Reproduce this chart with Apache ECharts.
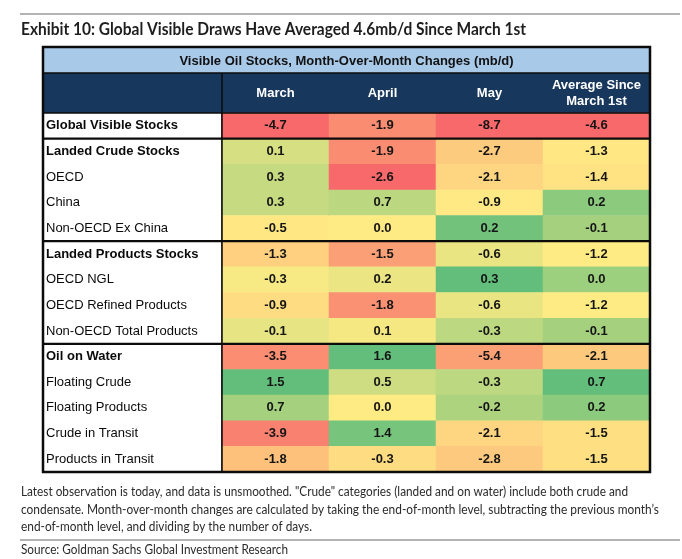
<!DOCTYPE html>
<html>
<head>
<meta charset="utf-8">
<script src="https://cdn.jsdelivr.net/npm/echarts@6/dist/echarts.min.js"></script>
<style>
    html, body { margin: 0; padding: 0; background: #fff; }
    #chart { width: 682px; height: 559px; }
</style>
</head>
<body>
<div id="chart"></div>
<script>
    const rows = ['Global Visible Stocks', 'Landed Crude Stocks', 'OECD', 'China', 'Non-OECD Ex China',
        'Landed Products Stocks', 'OECD NGL', 'OECD Refined Products', 'Non-OECD Total Products',
        'Oil on Water', 'Floating Crude', 'Floating Products', 'Crude in Transit', 'Products in Transit'];
    const boldRows = ['Global Visible Stocks', 'Landed Crude Stocks', 'Landed Products Stocks', 'Oil on Water'];
    // last row of each block that gets a heavy rule underneath
    const sectionEnds = [0, 4, 8];
    const columns = ['March', 'April', 'May', 'Average Since\nMarch 1st'];

    const march = [-4.7, 0.1, 0.3, 0.3, -0.5, -1.3, -0.3, -0.9, -0.1, -3.5, 1.5, 0.7, -3.9, -1.8];
    const april = [-1.9, -1.9, -2.6, 0.7, 0.0, -1.5, 0.2, -1.8, 0.1, 1.6, 0.5, 0.0, 1.4, -0.3];
    const may = [-8.7, -2.7, -2.1, -0.9, 0.2, -0.6, 0.3, -0.6, -0.3, -5.4, -0.3, -0.2, -2.1, -2.8];
    const avgSince = [-4.6, -1.3, -1.4, 0.2, -0.1, -1.2, 0.0, -1.2, -0.1, -2.1, 0.7, 0.2, -1.5, -1.5];

    const title = 'Exhibit 10: Global Visible Draws Have Averaged 4.6mb/d Since March 1st';
    const tableTitle = 'Visible Oil Stocks, Month-Over-Month Changes (mb/d)';
    const notes = [
        'Latest observation is today, and data is unsmoothed. "Crude" categories (landed and on water) include both crude and',
        'condensate. Month-over-month changes are calculated by taking the end-of-month level, subtracting the previous month\u2019s',
        'end-of-month level, and dividing by the number of days.'
    ];
    const source = 'Source: Goldman Sachs Global Investment Research';

    // table frame
    const L = 43, R = 650, T = 47, BLUE_B = 73, HEAD_B = 113, B = 472, LABEL_R = 222;
    const rowH = (B - HEAD_B) / rows.length;

    // excel style 3 colour scale, computed per column (min / median / max)
    function scalePos(values) {
        const s = values.slice().sort((a, b) => a - b);
        const n = s.length;
        const med = n % 2 ? s[(n - 1) / 2] : (s[n / 2 - 1] + s[n / 2]) / 2;
        const min = s[0], max = s[n - 1];
        return values.map(v => v <= med
            ? 0.5 * (v - min) / (med - min || 1)
            : 0.5 + 0.5 * (v - med) / (max - med || 1));
    }

    let data = [];
    [march, april, may, avgSince].forEach((col, ci) => {
        const pos = scalePos(col);
        col.forEach((v, ri) => data.push([ci, ri, v, pos[ri]]));
    });

    // squeeze text so it spans the same width as in the source image
    const ctx = document.createElement('canvas').getContext('2d');
    function fit(text, font, width) {
        ctx.font = font;
        return width / ctx.measureText(text).width;
    }

    const titleFont = 'bold 16.5px Lato';
    const noteFont = '12.5px Lato';
    const noteWidths = [607, 638, 291];

    let graphic = [
        {type: 'line', shape: {x1: 20, y1: 14, x2: 680, y2: 14}, style: {stroke: '#b3b3b3', lineWidth: 2}},
        {
            type: 'text', x: 21, y: 30, scaleX: fit(title, titleFont, 505),
            style: {text: title, font: titleFont, fill: '#1e1e1e', verticalAlign: 'middle'}
        },
        {type: 'rect', shape: {x: L, y: T, width: R - L, height: BLUE_B - T}, style: {fill: '#a9c9e9'}},
        {
            type: 'text', x: (L + R) / 2, y: (T + BLUE_B) / 2 + 1,
            style: {text: tableTitle, font: 'bold 13px "Liberation Sans"', fill: '#111', align: 'center', verticalAlign: 'middle'}
        },
        {type: 'rect', shape: {x: L, y: BLUE_B, width: R - L, height: HEAD_B - BLUE_B}, style: {fill: '#17375d'}},
        {type: 'line', z: 100, shape: {x1: L, y1: BLUE_B, x2: R, y2: BLUE_B}, style: {stroke: '#0b0b0b', lineWidth: 1.5}},
        {type: 'line', z: 100, shape: {x1: L, y1: HEAD_B, x2: R, y2: HEAD_B}, style: {stroke: '#0b0b0b', lineWidth: 1.5}},
        {type: 'line', z: 100, shape: {x1: LABEL_R, y1: BLUE_B, x2: LABEL_R, y2: B}, style: {stroke: '#0b0b0b', lineWidth: 1.5}},
        {
            type: 'rect', z: 101, shape: {x: L, y: T, width: R - L, height: B - T},
            style: {fill: 'none', stroke: '#0b0b0b', lineWidth: 2.5}
        },
        {type: 'line', shape: {x1: 20, y1: 540, x2: 680, y2: 540}, style: {stroke: '#b3b3b3', lineWidth: 2}},
        {
            type: 'text', x: 21, y: 550, scaleX: fit(source, noteFont, 267),
            style: {text: source, font: noteFont, fill: '#2b2b2b', verticalAlign: 'middle'}
        }
    ];

    sectionEnds.forEach(i => {
        const y = HEAD_B + (i + 1) * rowH;
        graphic.push({type: 'line', z: 100, shape: {x1: L, y1: y, x2: R, y2: y}, style: {stroke: '#0b0b0b', lineWidth: 2.2}});
    });

    notes.forEach((t, i) => {
        graphic.push({
            type: 'text', x: 21, y: 492 + i * 17.5, scaleX: fit(t, noteFont, noteWidths[i]),
            style: {text: t, font: noteFont, fill: '#2b2b2b', verticalAlign: 'middle'}
        });
    });

    let chart = echarts.init(document.getElementById('chart'));
    let option = {
        animation: false,
        textStyle: {fontFamily: '"Liberation Sans", Arial, sans-serif'},
        grid: {left: LABEL_R, right: 682 - R, top: HEAD_B, bottom: 559 - B},
        xAxis: {
            type: 'category',
            position: 'top',
            data: columns,
            axisLine: {show: false},
            axisTick: {show: false},
            axisLabel: {
                interval: 0,
                hideOverlap: false,
                color: '#fff', fontWeight: 'bold', fontSize: 13, lineHeight: 16,
                verticalAlign: 'middle', margin: 20
            },
            splitLine: {show: true, interval: 0, lineStyle: {color: '#0b0b0b', width: 1.5}}
        },
        yAxis: {
            type: 'category',
            inverse: true,
            data: rows,
            axisLine: {show: false},
            axisTick: {show: false},
            splitLine: {show: false},
            axisLabel: {
                interval: 0,
                align: 'left',
                margin: LABEL_R - L - 3,
                formatter: v => boldRows.includes(v) ? '{b|' + v + '}' : '{n|' + v + '}',
                rich: {
                    b: {fontWeight: 'bold', fontSize: 13, color: '#0a0a0a'},
                    n: {fontSize: 13, color: '#0a0a0a'}
                }
            }
        },
        visualMap: {
            show: false,
            dimension: 3,
            min: 0,
            max: 1,
            inRange: {color: ['#F8696B', '#FFEB84', '#63BE7B']}
        },
        series: [{
            type: 'heatmap',
            data: data,
            itemStyle: {borderWidth: 0},
            label: {
                show: true,
                formatter: p => p.value[2].toFixed(1),
                fontWeight: 'bold',
                fontSize: 13,
                color: '#151515'
            },
            emphasis: {disabled: true}
        }],
        graphic: graphic
    };
    chart.setOption(option);
</script>
</body>
</html>
